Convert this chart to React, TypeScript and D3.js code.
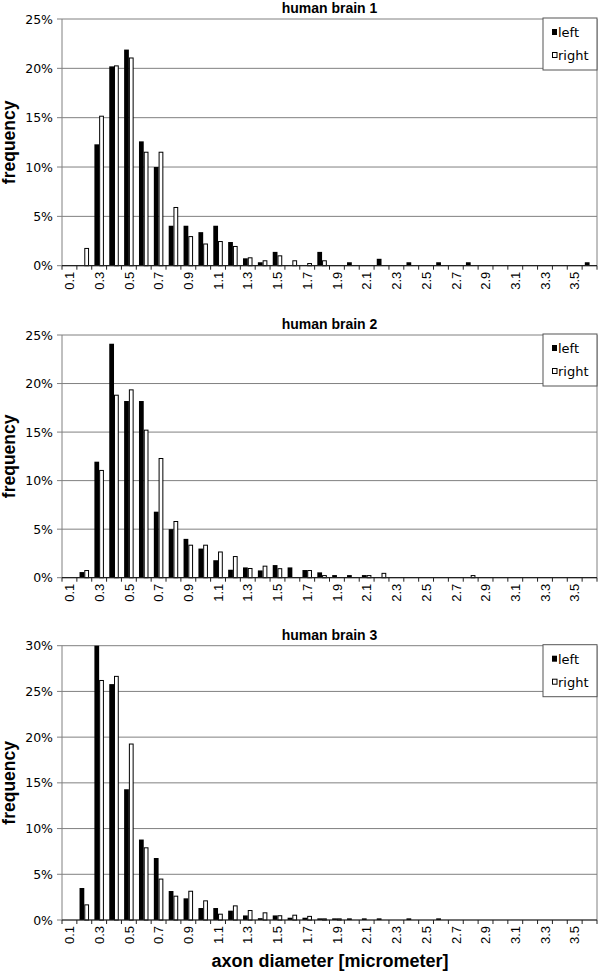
import React from "react";
import * as d3 from "d3";

const categories = [
  "0.1", "0.2", "0.3", "0.4", "0.5", "0.6", "0.7", "0.8", "0.9", "1.0",
  "1.1", "1.2", "1.3", "1.4", "1.5", "1.6", "1.7", "1.8", "1.9", "2.0",
  "2.1", "2.2", "2.3", "2.4", "2.5", "2.6", "2.7", "2.8", "2.9", "3.0",
  "3.1", "3.2", "3.3", "3.4", "3.5", "3.6",
];
const tickLabels = [
  "0.1", "0.3", "0.5", "0.7", "0.9", "1.1", "1.3", "1.5", "1.7", "1.9",
  "2.1", "2.3", "2.5", "2.7", "2.9", "3.1", "3.3", "3.5",
];
const seriesNames = ["left", "right"];

// frequency in %
const brain1Left = [
  0, 0, 12.3, 20.2, 21.9, 12.6, 10.0, 4.05, 4.05, 3.4,
  4.05, 2.4, 0.75, 0.35, 1.4, 0, 0, 1.4, 0, 0.35,
  0, 0.7, 0, 0.35, 0, 0.35, 0, 0.35, 0, 0,
  0, 0, 0, 0, 0, 0.35,
];
const brain1Right = [
  0, 1.8, 15.2, 20.3, 21.1, 11.55, 11.55, 5.95, 3.0, 2.25,
  2.5, 2.0, 0.85, 0.55, 1.05, 0.55, 0.27, 0.55, 0, 0,
  0, 0, 0, 0, 0, 0, 0, 0, 0, 0,
  0, 0, 0, 0, 0, 0,
];
const brain2Left = [
  0, 0.58, 11.95, 24.1, 18.2, 18.2, 6.8, 5.0, 4.0, 3.0,
  1.8, 0.82, 1.06, 0.75, 1.3, 1.06, 0.79, 0.55, 0.27, 0.27,
  0.27, 0, 0, 0, 0, 0, 0, 0, 0, 0,
  0, 0, 0, 0, 0, 0,
];
const brain2Right = [
  0, 0.79, 11.1, 18.85, 19.4, 15.25, 12.33, 5.84, 3.4, 3.4,
  2.7, 2.23, 1.0, 1.24, 0.98, 0, 0.79, 0.27, 0, 0,
  0.27, 0.5, 0, 0, 0, 0, 0, 0.27, 0, 0,
  0, 0, 0, 0, 0, 0,
];
const brain3Left = [
  0, 3.5, 30, 25.8, 14.3, 8.8, 6.78, 3.17, 2.37, 1.31,
  1.31, 1.02, 0.5, 0.2, 0.5, 0.25, 0.25, 0.18, 0.18, 0.18,
  0.18, 0.18, 0, 0.18, 0, 0.18, 0, 0, 0, 0,
  0, 0, 0, 0, 0, 0,
];
const brain3Right = [
  0, 1.71, 26.25, 26.7, 19.3, 7.95, 4.53, 2.66, 3.2, 2.15,
  0.69, 1.6, 1.09, 0.84, 0.52, 0.58, 0.45, 0.18, 0.18, 0,
  0, 0, 0, 0, 0, 0, 0, 0, 0, 0,
  0, 0, 0, 0, 0, 0,
];

const titles = ["human brain 1", "human brain 2", "human brain 3"];
const yMaxes = [25, 25, 30];

const sans = "'Liberation Sans', Arial, sans-serif";
const wide = "'DejaVu Sans', sans-serif";

interface PanelProps {
  title: string;
  left: number[];
  right: number[];
  yMax: number;
  top: number;
  bottom: number;
}

const Panel: React.FC<PanelProps> = ({ title, left, right, yMax, top, bottom }) => {
  const x0 = 62;
  const x1 = 597;
  const x = d3.scaleBand<string>().domain(categories).range([x0, x1]);
  const inner = d3
    .scaleBand<string>()
    .domain(seriesNames)
    .range([x.bandwidth() * 0.18, x.bandwidth() * 0.82]);
  const y = d3.scaleLinear().domain([0, yMax]).range([bottom, top]);
  const yTicks = d3.range(0, yMax + 0.001, 5);
  const boundaries = d3.range(0, categories.length + 1).map((i) => x0 + i * x.step());

  const legX = x1 - 54;
  const legY = top - 1;

  return (
    <g>
      <text
        x={(x0 + x1) / 2}
        y={top - 6}
        textAnchor="middle"
        fontFamily={sans}
        fontWeight="bold"
        fontSize={14}
      >
        {title}
      </text>
      {yTicks.map((t) => (
        <g key={t}>
          <line x1={x0} x2={x1} y1={y(t)} y2={y(t)} stroke="#808080" strokeWidth={1} />
          <line x1={x0 - 5} x2={x0} y1={y(t)} y2={y(t)} stroke="#808080" strokeWidth={1} />
          <text
            x={x0 - 9}
            y={y(t)}
            dy="0.36em"
            textAnchor="end"
            fontFamily={wide}
            fontSize={12.5}
          >
            {`${t}%`}
          </text>
        </g>
      ))}
      <line x1={x1} x2={x1} y1={top} y2={bottom} stroke="#808080" />
      <line x1={x0} x2={x0} y1={top} y2={bottom} stroke="#808080" />
      {categories.map((c, i) => (
        <g key={c}>
          {left[i] > 0 && (
            <rect
              x={(x(c) ?? 0) + (inner("left") ?? 0)}
              y={y(left[i])}
              width={inner.bandwidth()}
              height={bottom - y(left[i])}
              fill="#000"
            />
          )}
          {right[i] > 0 && (
            <rect
              x={(x(c) ?? 0) + (inner("right") ?? 0) + 0.5}
              y={y(right[i]) + 0.5}
              width={inner.bandwidth() - 1}
              height={Math.max(0, bottom - y(right[i]) - 0.5)}
              fill="#fff"
              stroke="#000"
              strokeWidth={1}
            />
          )}
        </g>
      ))}
      <line x1={x0} x2={x1} y1={bottom} y2={bottom} stroke="#222" strokeWidth={1.2} />
      {boundaries.map((bx, i) => (
        <line key={i} x1={bx} x2={bx} y1={bottom} y2={bottom + 4} stroke="#222" />
      ))}
      {tickLabels.map((t) => {
        const cx = (x(t) ?? 0) + x.bandwidth() / 2;
        return (
          <text
            key={t}
            transform={`translate(${cx},${bottom + 6}) rotate(-90)`}
            dy="0.36em"
            textAnchor="end"
            fontFamily={sans}
            fontSize={13}
          >
            {t}
          </text>
        );
      })}
      <text
        transform={`translate(15,${(top + bottom) / 2}) rotate(-90)`}
        textAnchor="middle"
        fontFamily={sans}
        fontWeight="bold"
        fontSize={17.5}
      >
        frequency
      </text>
      <rect x={legX} y={legY} width={x1 - legX} height={52} fill="#fff" stroke="#555" />
      <rect x={legX + 9} y={legY + 11} width={5} height={6} fill="#000" />
      <text x={legX + 15} y={legY + 19} fontFamily={wide} fontSize={13}>
        left
      </text>
      <rect x={legX + 9.5} y={legY + 34.5} width={4.5} height={5} fill="#fff" stroke="#000" />
      <text x={legX + 15} y={legY + 42} fontFamily={wide} fontSize={13}>
        right
      </text>
    </g>
  );
};

const App: React.FC = () => {
  const panels = [
    { left: brain1Left, right: brain1Right, top: 19, bottom: 265.7 },
    { left: brain2Left, right: brain2Right, top: 335, bottom: 577.7 },
    { left: brain3Left, right: brain3Right, top: 645.7, bottom: 920 },
  ];
  return (
    <svg
      width={600}
      height={971}
      style={{ position: "absolute", left: 0, top: 0, background: "#fff" }}
    >
      <rect width={600} height={971} fill="#fff" />
      {panels.map((p, i) => (
        <Panel
          key={i}
          title={titles[i]}
          left={p.left}
          right={p.right}
          yMax={yMaxes[i]}
          top={p.top}
          bottom={p.bottom}
        />
      ))}
      <text
        x={330}
        y={967}
        textAnchor="middle"
        fontFamily={sans}
        fontWeight="bold"
        fontSize={18}
      >
        axon diameter [micrometer]
      </text>
    </svg>
  );
};

export default App;
